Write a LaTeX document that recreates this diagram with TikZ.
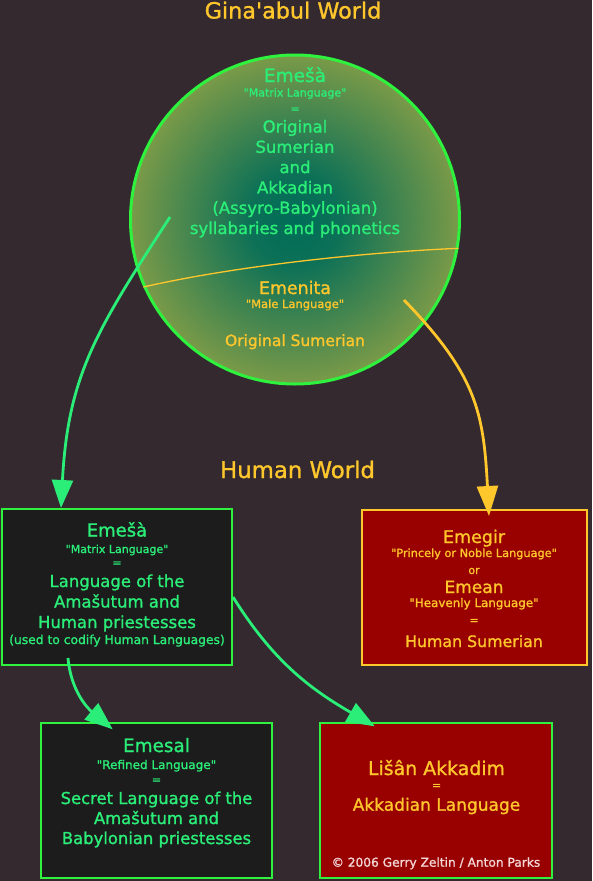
\documentclass[tikz,border=0pt]{standalone}
\usepackage{fontspec}
\setmainfont{DejaVu Sans}[FakeBold=1.2]
\usetikzlibrary{arrows.meta}

\definecolor{nightbg}{HTML}{33292F}
\definecolor{mint}{HTML}{2BEE78}
\definecolor{lime}{HTML}{2EF23E}
\definecolor{amber}{HTML}{FFC72C}
\definecolor{oxblood}{HTML}{990000}
\definecolor{coal}{HTML}{1C1C1C}
\definecolor{orbcore}{HTML}{006C58}
\definecolor{orbrim}{HTML}{7A9A48}
\definecolor{blush}{HTML}{F4D8D8}

\pgfdeclareradialshading{orbshade}{\pgfpoint{0bp}{0bp}}{%
  color(0bp)=(orbcore); color(7bp)=(orbcore!90!orbrim); color(25bp)=(orbrim); color(50bp)=(orbrim)}

\newcommand{\fsz}[2]{\fontsize{#1}{#2}\selectfont}
\newcommand{\qq}[1]{\textquotedbl#1\textquotedbl}

\tikzset{
  txt/.style={inner sep=0pt, anchor=base, align=center},
  langbox/.style={rectangle, inner sep=0pt, line width=2pt},
  mintarrow/.style={draw=mint, line width=2.8pt, -{Triangle[length=28pt,width=21pt]}},
  amberarrow/.style={draw=amber, line width=2.8pt, -{Triangle[length=30pt,width=21pt]}},
}

\begin{document}
\begin{tikzpicture}[x=1pt, y=1pt]
  % page
  \fill[nightbg] (0,0) rectangle (592,-881);
  \useasboundingbox (0,0) rectangle (592,-881);

  % Gina'abul world
  \node[txt, text=amber, font=\fsz{22.3}{26}] (gina-title) at (293,-18.5) {Gina\textquotesingle abul World};
  \node[circle, draw=lime, line width=3pt, shading=orbshade, shade,
        minimum size=329pt, inner sep=0pt] (gina) at (295,-219.5) {};
  \draw[amber, line width=1.3pt] (gina.204) .. controls (240,-265) and (370,-252) .. (gina.350);

  \node[txt, text=mint, font=\fsz{18.5}{22}] (orb-name) at (295,-82) {Emešà};
  \node[txt, text=mint, font=\fsz{11}{13}] (orb-gloss) at (295,-96.5) {\qq{Matrix Language}};
  \node[txt, text=mint, font=\fsz{11}{13}] (orb-eq) at (295,-112.5) {=};
  \node[txt, text=mint, font=\fsz{16.5}{20.3}] (orb-body) at (295,-234)
    {Original\\Sumerian\\and\\Akkadian\\(Assyro-Babylonian)\\syllabaries and phonetics};

  \node[txt, text=amber, font=\fsz{17.4}{20}] (orb-emenita) at (295,-294) {Emenita};
  \node[txt, text=amber, font=\fsz{11.5}{13}] (orb-male) at (295,-308) {\qq{Male Language}};
  \node[txt, text=amber, font=\fsz{15.5}{18}] (orb-orig) at (295,-346) {Original Sumerian};

  % Human world
  \node[txt, text=amber, font=\fsz{22.8}{26}] (human-title) at (297.5,-478) {Human World};

  \node[langbox, draw=lime, fill=coal, minimum width=230pt, minimum height=156pt] (emesa) at (117,-587) {};
  \node[txt, text=mint, font=\fsz{18}{21}] (emesa-name) at (117,-536.5) {Emešà};
  \node[txt, text=mint, font=\fsz{11}{13}] (emesa-gloss) at (117,-553) {\qq{Matrix Language}};
  \node[txt, text=mint, font=\fsz{11}{13}] (emesa-eq) at (117,-566.5) {=};
  \node[txt, text=mint, font=\fsz{16.5}{20.5}] (emesa-body) at (117,-628)
    {Language of the\\Amašutum and\\Human priestesses};
  \node[txt, text=mint, font=\fsz{12.3}{14}] (emesa-note) at (117,-644) {(used to codify Human Languages)};

  \node[langbox, draw=amber, fill=oxblood, minimum width=225pt, minimum height=155pt] (emegir) at (474.5,-587.5) {};
  \node[txt, text=amber, font=\fsz{17.5}{20}] (emegir-name) at (474,-543) {Emegir};
  \node[txt, text=amber, font=\fsz{11.3}{13}] (emegir-gloss) at (474,-557) {\qq{Princely or Noble Language}};
  \node[txt, text=amber, font=\fsz{11}{13}] (emegir-or) at (474,-574) {or};
  \node[txt, text=amber, font=\fsz{17}{20}] (emean-name) at (474,-593) {Emean};
  \node[txt, text=amber, font=\fsz{11.9}{13}] (emean-gloss) at (474,-607) {\qq{Heavenly Language}};
  \node[txt, text=amber, font=\fsz{11}{13}] (emean-eq) at (474,-624) {=};
  \node[txt, text=amber, font=\fsz{15.8}{18}] (emean-body) at (474,-647) {Human Sumerian};

  \node[langbox, draw=lime, fill=coal, minimum width=231pt, minimum height=155pt] (emesal) at (156.7,-800.8) {};
  \node[txt, text=mint, font=\fsz{18.4}{21}] (emesal-name) at (156.5,-752) {Emesal};
  \node[txt, text=mint, font=\fsz{12}{14}] (emesal-gloss) at (156.5,-769) {\qq{Refined Language}};
  \node[txt, text=mint, font=\fsz{11}{13}] (emesal-eq) at (156.5,-783.5) {=};
  \node[txt, text=mint, font=\fsz{16.4}{20}] (emesal-body) at (156.5,-844)
    {Secret Language of the\\Amašutum and\\Babylonian priestesses};

  \node[langbox, draw=lime, fill=oxblood, minimum width=231.7pt, minimum height=155pt] (lisan) at (435.8,-800.8) {};
  \node[txt, text=amber, font=\fsz{18.9}{22}] (lisan-name) at (436.5,-775) {Lišân Akkadim};
  \node[txt, text=amber, font=\fsz{11}{13}] (lisan-eq) at (436.5,-789) {=};
  \node[txt, text=amber, font=\fsz{17}{20}] (lisan-body) at (436.5,-810.7) {Akkadian Language};
  \node[txt, text=blush, font=\fsz{12.2}{14}] (lisan-copy) at (436,-866.7) {© 2006 Gerry Zeltin / Anton Parks};

  % connectors
  \coordinate (orb-green-src) at (170,-217);
  \coordinate (orb-gold-src) at (404,-300);
  \draw[mintarrow] (orb-green-src) to[out=-123, in=87, looseness=1.1] ([xshift=-56pt]emesa.north);
  \draw[amberarrow] (orb-gold-src) to[out=-46, in=93, looseness=1.15] ([xshift=14.5pt, yshift=-7pt]emegir.north);
  \draw[mintarrow] ([xshift=-49pt, yshift=8pt]emesa.south) to[out=-85, in=140] ([xshift=-44pt, yshift=-7pt]emesal.north);
  \draw[mintarrow] ([yshift=-10pt]emesa.east) to[out=-58, in=150] ([xshift=-61pt, yshift=-4pt]lisan.north);
\end{tikzpicture}
\end{document}
